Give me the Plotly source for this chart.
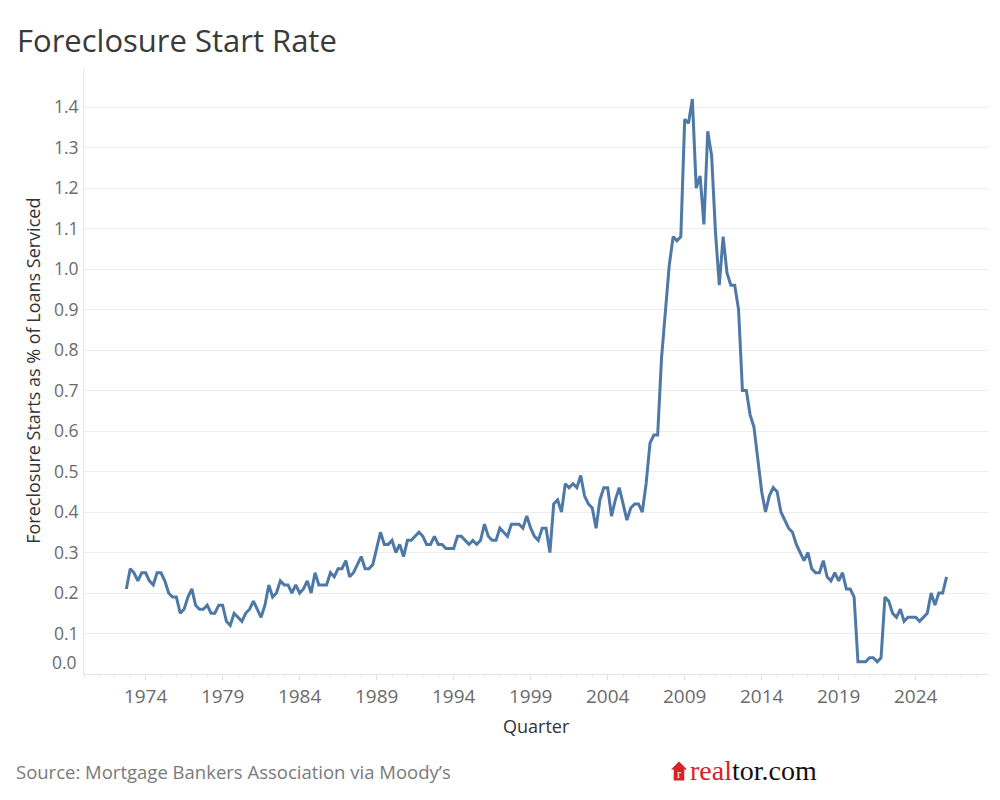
import plotly.graph_objects as go
import pandas as pd

# Quarterly foreclosure start rate (% of loans serviced), starting 1972 Q4
start_quarter = "1972-10-01"
rate = [
    0.21, 0.26, 0.25, 0.23, 0.25, 0.25, 0.23, 0.22, 0.25, 0.25,
    0.23, 0.20, 0.19, 0.19, 0.15, 0.16, 0.19, 0.21, 0.17, 0.16,
    0.16, 0.17, 0.15, 0.15, 0.17, 0.17, 0.13, 0.12, 0.15, 0.14,
    0.13, 0.15, 0.16, 0.18, 0.16, 0.14, 0.17, 0.22, 0.19, 0.20,
    0.23, 0.22, 0.22, 0.20, 0.22, 0.20, 0.21, 0.23, 0.20, 0.25,
    0.22, 0.22, 0.22, 0.25, 0.24, 0.26, 0.26, 0.28, 0.24, 0.25,
    0.27, 0.29, 0.26, 0.26, 0.27, 0.31, 0.35, 0.32, 0.32, 0.33,
    0.30, 0.32, 0.29, 0.33, 0.33, 0.34, 0.35, 0.34, 0.32, 0.32,
    0.34, 0.32, 0.32, 0.31, 0.31, 0.31, 0.34, 0.34, 0.33, 0.32,
    0.33, 0.32, 0.33, 0.37, 0.34, 0.33, 0.33, 0.36, 0.35, 0.34,
    0.37, 0.37, 0.37, 0.36, 0.39, 0.36, 0.34, 0.33, 0.36, 0.36,
    0.30, 0.42, 0.43, 0.40, 0.47, 0.46, 0.47, 0.46, 0.49, 0.44,
    0.42, 0.41, 0.36, 0.43, 0.46, 0.46, 0.39, 0.43, 0.46, 0.42,
    0.38, 0.41, 0.42, 0.42, 0.40, 0.47, 0.57, 0.59, 0.59, 0.78,
    0.89, 1.01, 1.08, 1.07, 1.08, 1.37, 1.36, 1.42, 1.20, 1.23,
    1.11, 1.34, 1.28, 1.09, 0.96, 1.08, 0.99, 0.96, 0.96, 0.90,
    0.70, 0.70, 0.64, 0.61, 0.53, 0.45, 0.40, 0.44, 0.46, 0.45,
    0.40, 0.38, 0.36, 0.35, 0.32, 0.30, 0.28, 0.30, 0.26, 0.25,
    0.25, 0.28, 0.24, 0.23, 0.25, 0.23, 0.25, 0.21, 0.21, 0.19,
    0.03, 0.03, 0.03, 0.04, 0.04, 0.03, 0.04, 0.19, 0.18, 0.15,
    0.14, 0.16, 0.13, 0.14, 0.14, 0.14, 0.13, 0.14, 0.15, 0.20,
    0.17, 0.20, 0.20, 0.24,
]
quarters = pd.date_range(start=start_quarter, periods=len(rate), freq="QS")

y_ticks = [0.1, 0.2, 0.3, 0.4, 0.5, 0.6, 0.7, 0.8, 0.9, 1.0, 1.1, 1.2, 1.3, 1.4]
x_tick_years = [1974, 1979, 1984, 1989, 1994, 1999, 2004, 2009, 2014, 2019, 2024]

title_text = "Foreclosure Start Rate"
y_title = "Foreclosure Starts as % of Loans Serviced"
x_title = "Quarter"
source_text = "Source: Mortgage Bankers Association via Moody’s"

FONT = "Open Sans"
TICK_COLOR = "#6b6b6b"
GRID = "#ececec"

# the page body adds an 8px offset; layout below is given in page pixels
OFF = 8
L, R, T, B = 84 - OFF, 988 - OFF, 69 - OFF, 674.5 - OFF
PW, PH = R - L, B - T
def px(x):
    return (x - OFF - L) / PW
def py(y):
    return (B - (y - OFF)) / PH

fig = go.Figure()
fig.add_trace(go.Scatter(
    x=quarters, y=rate, mode="lines",
    line=dict(color="#4e79a7", width=3),
    hoverinfo="skip",
))

fig.update_layout(
    width=1000, height=800,
    margin=dict(l=L, r=1000 - R, t=T, b=800 - B, autoexpand=False),
    paper_bgcolor="white", plot_bgcolor="white",
    showlegend=False,
    font=dict(family=FONT, color=TICK_COLOR),
    title=dict(text=title_text, x=0.009, xanchor="left", y=1 - (41 - OFF) / 800, yanchor="middle",
               font=dict(family=FONT, size=31, color="#3a3a3a")),
)

fig.update_xaxes(
    type="date", automargin=False,
    range=["1970-01-01", "2028-09-10"],
    tickvals=[f"{y}-01-01" for y in x_tick_years],
    ticktext=[str(y) for y in x_tick_years],
    ticks="outside", ticklen=5, tickcolor="#e2e2e2",
    minor=dict(dtick="M12", tick0="1970-01-01", ticks="outside", ticklen=3, tickcolor="#ececec"),
    tickfont=dict(size=19, color=TICK_COLOR),
    showgrid=False, zeroline=False,
    showline=True, linecolor="#e6e6e6", linewidth=1,
)

fig.update_yaxes(
    automargin=False,
    range=[0, 1.494],
    tickvals=y_ticks,
    ticktext=[f"{v:.1f}" for v in y_ticks],
    ticks="", tickfont=dict(size=17.5, color=TICK_COLOR),
    showgrid=True, gridcolor=GRID, gridwidth=1,
    zeroline=False,
    showline=True, linecolor="#e6e6e6", linewidth=1,
    ticklabelstandoff=1,
)

# axis titles
fig.add_annotation(x=px(33), xref="paper", y=py(371), yref="paper", text=y_title,
                   textangle=-90, showarrow=False, xanchor="center", yanchor="middle",
                   font=dict(family=FONT, size=18, color="#333333"))
fig.add_annotation(x=px(536), xref="paper", y=py(727), yref="paper", text=x_title,
                   showarrow=False, xanchor="center", yanchor="middle",
                   font=dict(family=FONT, size=18, color="#333333"))

# 0.0 label, nudged up as in the reference
fig.add_annotation(x=0, xref="paper", y=0, yref="y", text="0.0", showarrow=False,
                   xanchor="right", yanchor="middle", xshift=-5, yshift=12,
                   font=dict(family=FONT, size=17.5, color=TICK_COLOR))

fig.add_annotation(x=px(14), xref="paper", y=py(772), yref="paper", text=source_text,
                   showarrow=False, xanchor="left", yanchor="middle",
                   font=dict(family=FONT, size=18.5, color="#7a7a7a"))

# realtor.com wordmark
fig.add_annotation(x=px(688), xref="paper", y=py(771), yref="paper",
                   text="<span style='color:#d92228'>real</span>tor.com",
                   showarrow=False, xanchor="left", yanchor="middle",
                   font=dict(family="Liberation Serif", size=28, color="#111111"))
hx0, hx1, hxm = px(671), px(687), px(679)
hy0, hy1, hy2 = py(781), py(770), py(762)
fig.add_shape(type="path", xref="paper", yref="paper",
              path=f"M {hx0+0.003} {hy0} L {hx0+0.003} {hy1} L {hx0} {hy1} L {hxm} {hy2} "
                   f"L {hx1} {hy1} L {hx1-0.003} {hy1} L {hx1-0.003} {hy0} Z",
              fillcolor="#d92228", line=dict(width=0))
fig.add_annotation(x=hxm, xref="paper", y=py(775), yref="paper", text="r",
                   showarrow=False, xanchor="center", yanchor="middle",
                   font=dict(family="Liberation Serif", size=12, color="white"))

fig.write_html("out.html")
